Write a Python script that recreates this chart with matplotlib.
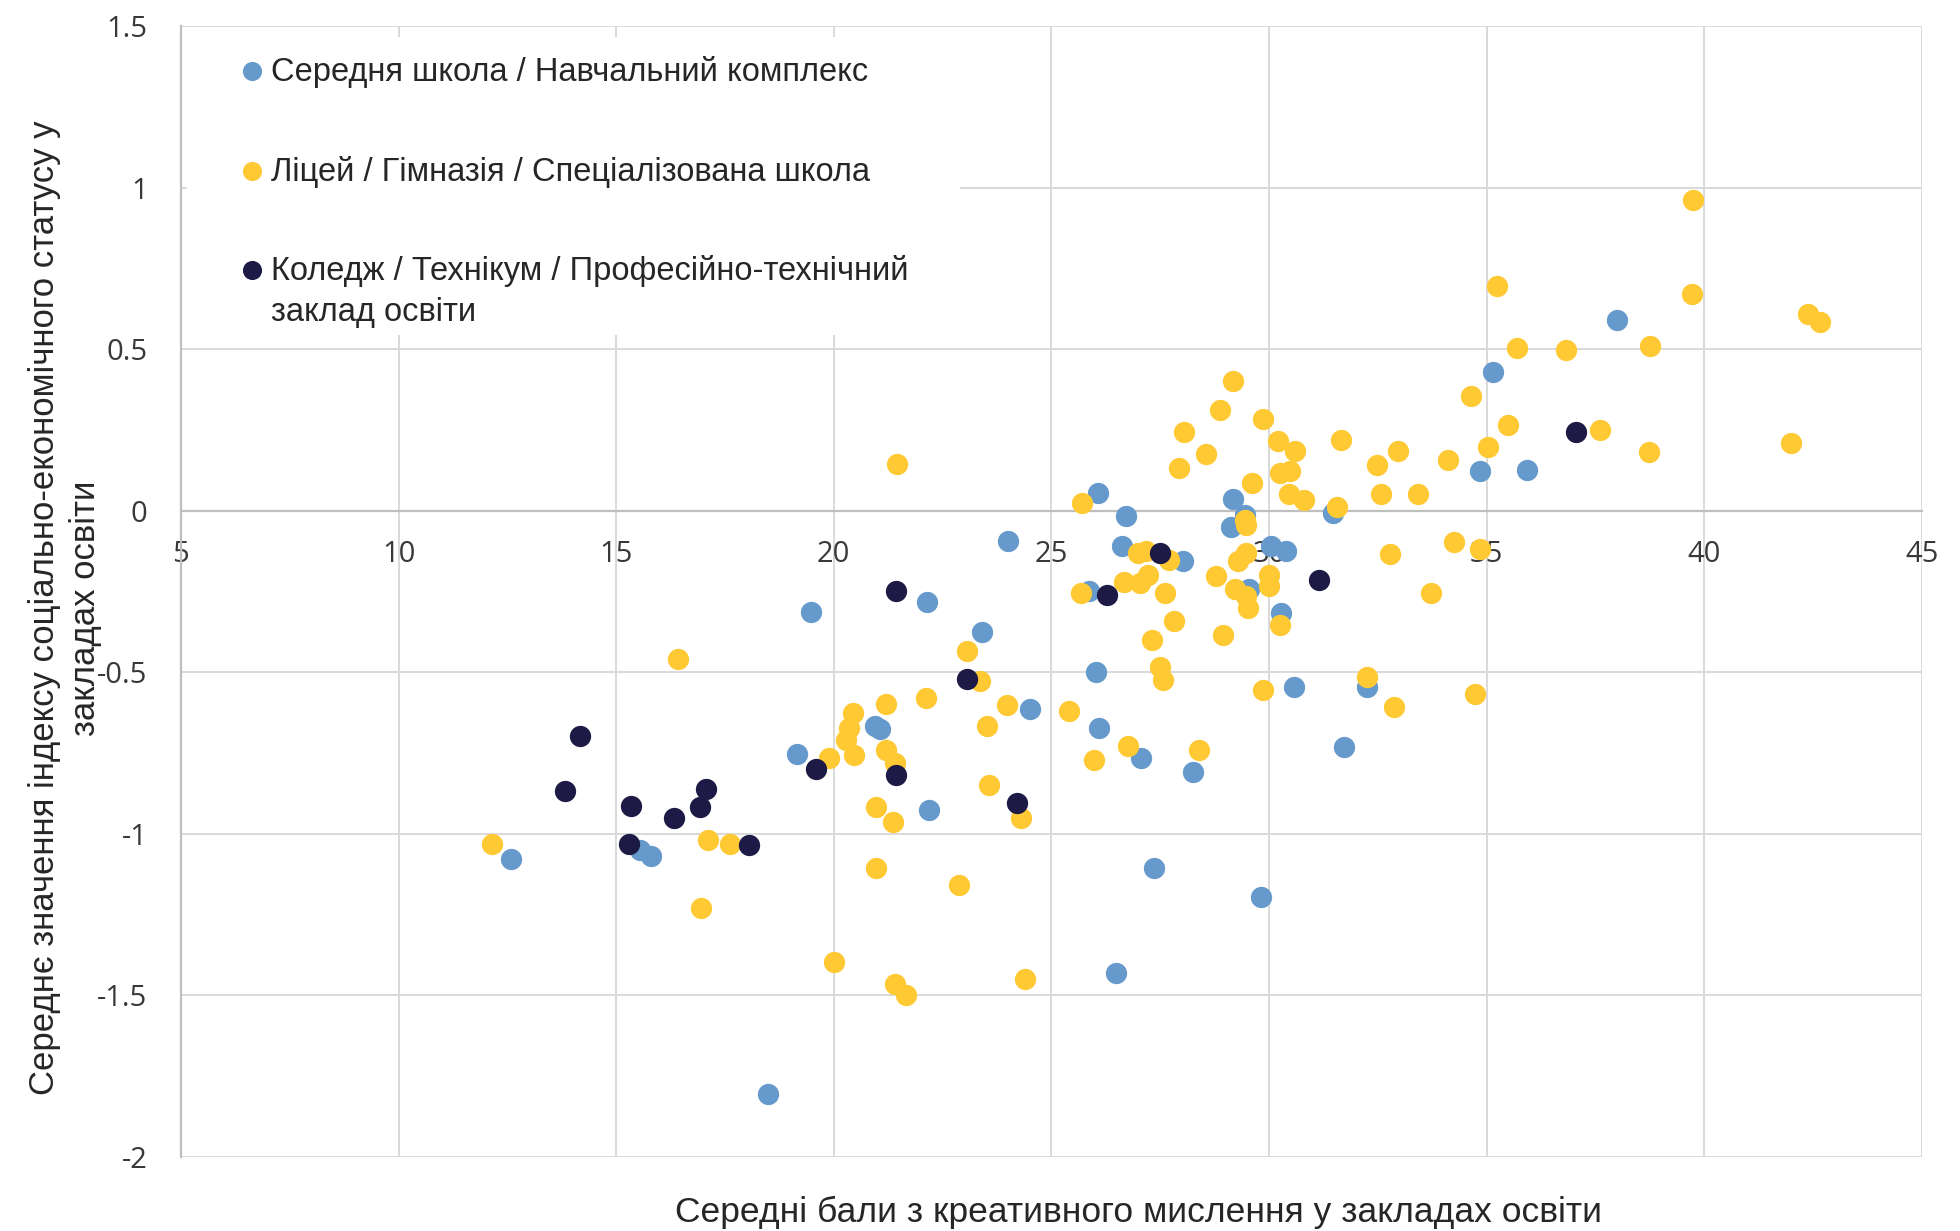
import matplotlib
matplotlib.use("Agg")
import matplotlib.pyplot as plt
from matplotlib.patches import Rectangle

# Середня школа / Навчальний комплекс
school_x = [12.59, 15.54, 15.81, 18.49, 19.16, 19.47, 20.94, 21.06, 22.15, 22.18,
            23.41, 24.00, 24.50, 25.86, 26.02, 26.07, 26.09, 26.49, 26.63, 26.71,
            27.05, 27.36, 28.03, 28.25, 29.13, 29.17, 29.44, 29.54, 29.81, 30.05,
            30.40, 30.28, 30.57, 31.47, 31.72, 32.26, 34.85, 35.14, 35.92, 38.00]
school_y = [-1.077, -1.049, -1.067, -1.804, -0.752, -0.314, -0.667, -0.677, -0.283, -0.927,
            -0.376, -0.094, -0.615, -0.250, -0.499, 0.055, -0.672, -1.432, -0.110, -0.017,
            -0.765, -1.107, -0.157, -0.810, -0.050, 0.036, -0.012, -0.242, -1.195, -0.110,
            -0.126, -0.316, -0.545, -0.007, -0.731, -0.545, 0.122, 0.429, 0.127, 0.591]

# Ліцей / Гімназія / Спеціалізована школа
lyceum_x = [12.15, 16.42, 16.94, 17.10, 17.61, 19.90, 20.00, 20.43, 20.36, 20.29,
            20.46, 20.98, 20.98, 21.19, 21.19, 21.40, 21.36, 21.40, 21.67, 21.46,
            22.11, 22.87, 23.05, 23.35, 23.52, 23.57, 23.99, 24.29, 24.39, 25.40,
            25.67, 25.71, 25.97, 26.66, 26.75, 27.03, 27.22, 27.00, 27.18, 27.70,
            27.60, 27.82, 27.31, 27.49, 27.57, 27.92, 28.05, 28.39, 28.56, 28.77,
            28.87, 28.94, 29.17, 29.21, 29.29, 29.45, 29.48, 29.48, 29.48, 29.52,
            29.60, 29.85, 29.86, 29.99, 29.99, 30.20, 30.24, 30.25, 30.46, 30.48,
            30.59, 30.80, 31.56, 31.66, 32.26, 32.48, 32.56, 32.77, 32.87, 32.96,
            33.42, 33.73, 34.10, 34.24, 34.63, 34.73, 34.84, 35.03, 35.23, 35.49,
            35.70, 36.83, 37.61, 38.72, 38.76, 39.71, 39.75, 42.00, 42.38, 42.65]
lyceum_y = [-1.031, -0.460, -1.229, -1.020, -1.031, -0.765, -1.397, -0.626, -0.672, -0.708,
            -0.755, -0.917, -1.107, -0.597, -0.741, -0.780, -0.963, -1.466, -1.500, 0.143,
            -0.580, -1.159, -0.435, -0.528, -0.667, -0.850, -0.602, -0.950, -1.449, -0.620,
            -0.254, 0.024, -0.770, -0.220, -0.729, -0.223, -0.198, -0.130, -0.126, -0.151,
            -0.254, -0.342, -0.399, -0.483, -0.523, 0.132, 0.243, -0.741, 0.174, -0.203,
            0.313, -0.386, 0.400, -0.242, -0.156, -0.028, -0.043, -0.131, -0.265, -0.300,
            0.086, -0.556, 0.284, -0.198, -0.234, 0.215, -0.355, 0.117, 0.053, 0.122,
            0.184, 0.034, 0.012, 0.220, -0.514, 0.140, 0.053, -0.133, -0.608, 0.184,
            0.053, -0.254, 0.156, -0.098, 0.354, -0.567, -0.117, 0.197, 0.696, 0.266,
            0.504, 0.498, 0.249, 0.181, 0.511, 0.672, 0.963, 0.210, 0.610, 0.584]

# Коледж / Технікум / Професійно-технічний заклад освіти
college_x = [13.83, 14.18, 15.29, 15.33, 16.33, 16.92, 17.06, 18.05, 19.60, 21.42,
             21.42, 23.05, 24.22, 26.28, 27.49, 31.15, 37.04]
college_y = [-0.868, -0.696, -1.031, -0.915, -0.951, -0.917, -0.861, -1.036, -0.799, -0.249,
             -0.819, -0.520, -0.904, -0.260, -0.130, -0.213, 0.244]

labels = ["Середня школа / Навчальний комплекс",
          "Ліцей / Гімназія / Спеціалізована школа",
          "Коледж / Технікум / Професійно-технічний\nзаклад освіти"]
colors = ["#6699CC", "#FFC933", "#1D1B45"]

x_ticks = [5, 10, 15, 20, 25, 30, 35, 40, 45]
y_ticks = [-2, -1.5, -1, -0.5, 0, 0.5, 1, 1.5]
y_tick_labels = ["-2", "-1.5", "-1", "-0.5", "0", "0.5", "1", "1.5"]

label_font = ["Liberation Sans Narrow", "Liberation Sans", "DejaVu Sans"]
tick_font = ["Open Sans", "DejaVu Sans"]
text_color = "#262626"

fig = plt.figure(figsize=(19.6, 12.31), dpi=100)
ax = fig.add_axes([0.0923, 0.0601, 0.8883, 0.9188])

series = [(school_x, school_y), (lyceum_x, lyceum_y), (college_x, college_y)]
for (xs, ys), c in zip(series, colors):
    ax.scatter(xs, ys, s=235, color=c, linewidths=0, zorder=3)

# x axis crosses at y = 0, as in the source chart
for side in ["top", "right"]:
    ax.spines[side].set_visible(False)
ax.spines["bottom"].set_position(("data", 0))
ax.spines["bottom"].set_color("#BFBFBF")
ax.spines["bottom"].set_linewidth(1.6)
ax.spines["left"].set_color("#BFBFBF")
ax.spines["left"].set_linewidth(1.6)

ax.set_xlim(5, 45)
ax.set_ylim(-2, 1.5)
ax.set_xticks(x_ticks)
ax.set_xticklabels([str(t) for t in x_ticks])
ax.set_yticks(y_ticks)
ax.set_yticklabels(y_tick_labels)
ax.tick_params(axis="both", length=0, labelsize=21, labelcolor="#383838")
ax.tick_params(axis="x", pad=21)
ax.tick_params(axis="y", pad=24)
for lab in ax.get_xticklabels() + ax.get_yticklabels():
    lab.set_family(tick_font)

ax.grid(True, color="#D9D9D9", linewidth=1.4)
ax.set_axisbelow(True)

# legend box drawn by hand so the marker sits on the first line of a wrapped label
ax.add_patch(Rectangle((0.0034, 0.7268), 0.4441, 0.2632, transform=ax.transAxes,
                       facecolor="white", edgecolor="none", zorder=4))
legend_y = [0.9602, 0.8718, 0.7843]
for c, lab, ly in zip(colors, labels, legend_y):
    ax.scatter([0.0408], [ly], s=190, color=c, linewidths=0, transform=ax.transAxes,
               zorder=5, clip_on=False)
    ax.text(0.0517, ly + 0.0135, lab, transform=ax.transAxes, family=label_font,
            fontsize=23.5, color=text_color, va="top", ha="left", linespacing=1.45, zorder=6)

fig.text(0.581, 0.0154, "Середні бали з креативного мислення у закладах освіти",
         family=label_font, fontsize=25.5, color=text_color, ha="center", va="center")
fig.text(0.033, 0.506, "Середнє значення індексу соціально-економічного статусу у\nзакладах освіти",
         family=label_font, fontsize=25, color=text_color, ha="center", va="center",
         rotation=90, linespacing=1.3)

fig.savefig("out.png", dpi=100)
